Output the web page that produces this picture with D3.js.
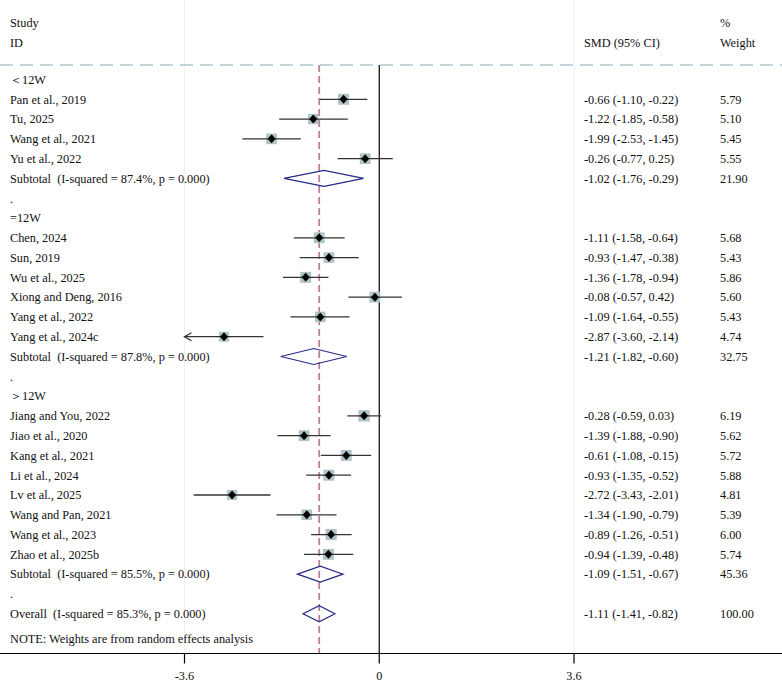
<!DOCTYPE html>
<html lang="en">
<head>
<meta charset="UTF-8">
<title>Forest plot</title>
<script src="https://cdn.jsdelivr.net/npm/d3@7"></script>
<style>
  * { margin: 0; padding: 0; }
  body { background: #fff; width: 782px; height: 681px; overflow: hidden; }
  svg { display: block; font-family: "Liberation Serif", "Times New Roman", serif; font-size: 12.3px; fill: #111; }
  text { white-space: pre; }
</style>
</head>
<body>
<svg id="chart" width="782" height="681"></svg>
<script>
// Subgroups
const groupLabels = ['＜12W', '=12W', '＞12W'];

// Studies (group index, SMD, 95% CI, % weight)
const studyNames = [
  'Pan et al., 2019', 'Tu, 2025', 'Wang et al., 2021', 'Yu et al., 2022',
  'Chen, 2024', 'Sun, 2019', 'Wu et al., 2025', 'Xiong and Deng, 2016', 'Yang et al., 2022', 'Yang et al., 2024c',
  'Jiang and You, 2022', 'Jiao et al., 2020', 'Kang et al., 2021', 'Li et al., 2024', 'Lv et al., 2025',
  'Wang and Pan, 2021', 'Wang et al., 2023', 'Zhao et al., 2025b'
];
const studyGroup = [0, 0, 0, 0, 1, 1, 1, 1, 1, 1, 2, 2, 2, 2, 2, 2, 2, 2];
const studySmd   = [-0.66, -1.22, -1.99, -0.26, -1.11, -0.93, -1.36, -0.08, -1.09, -2.87, -0.28, -1.39, -0.61, -0.93, -2.72, -1.34, -0.89, -0.94];
const studyLow   = [-1.10, -1.85, -2.53, -0.77, -1.58, -1.47, -1.78, -0.57, -1.64, -3.60, -0.59, -1.88, -1.08, -1.35, -3.43, -1.90, -1.26, -1.39];
const studyHigh  = [-0.22, -0.58, -1.45, 0.25, -0.64, -0.38, -0.94, 0.42, -0.55, -2.14, 0.03, -0.90, -0.15, -0.52, -2.01, -0.79, -0.51, -0.48];
const studyWeight = [5.79, 5.10, 5.45, 5.55, 5.68, 5.43, 5.86, 5.60, 5.43, 4.74, 6.19, 5.62, 5.72, 5.88, 4.81, 5.39, 6.00, 5.74];

// Subtotals per group
const subI2 = ['87.4%', '87.8%', '85.5%'];
const subSmd = [-1.02, -1.21, -1.09];
const subLow = [-1.76, -1.82, -1.51];
const subHigh = [-0.29, -0.60, -0.67];
const subWeight = [21.90, 32.75, 45.36];

// Overall
const overallI2 = '85.3%';
const overallSmd = -1.11;
const overallLow = -1.41;
const overallHigh = -0.82;

const axisTicks = [-3.6, 0, 3.6];

// build row list
const rows = [];
groupLabels.forEach((g, gi) => {
  rows.push({ kind: 'label', text: g });
  studyNames.forEach((s, i) => {
    if (studyGroup[i] !== gi) return;
    rows.push({ kind: 'study', text: s, es: studySmd[i], lo: studyLow[i], hi: studyHigh[i], w: studyWeight[i] });
  });
  rows.push({ kind: 'sub', text: `Subtotal  (I-squared = ${subI2[gi]}, p = 0.000)`, es: subSmd[gi], lo: subLow[gi], hi: subHigh[gi], w: subWeight[gi] });
  rows.push({ kind: 'label', text: '.' });
});
rows.push({ kind: 'sub', text: `Overall  (I-squared = ${overallI2}, p = 0.000)`, es: overallSmd, lo: overallLow, hi: overallHigh, w: 100 });
rows.push({ kind: 'note', text: 'NOTE: Weights are from random effects analysis' });

const svg = d3.select('#chart');
const x = d3.scaleLinear().domain([-3.6, 3.6]).range([184.5, 574]);
const y = d3.scaleLinear().domain([0, 28]).range([79.5, 633.5]);
const axisY = 653.5, topY = 65;
const fmt = v => v.toFixed(2);

// faint grid at the ticks
svg.append('g').selectAll('line')
  .data(axisTicks.filter(t => t !== 0)).join('line')
  .attr('x1', d => x(d)).attr('x2', d => x(d))
  .attr('y1', 0).attr('y2', axisY)
  .attr('stroke', '#eef2f3').attr('stroke-width', 1);

// header
const hdr = svg.append('g');
hdr.append('text').attr('x', 10).attr('y', 27).text('Study');
hdr.append('text').attr('x', 10).attr('y', 47).text('ID');
hdr.append('text').attr('x', 584).attr('y', 47).text('SMD (95% CI)');
hdr.append('text').attr('x', 720).attr('y', 27).text('%');
hdr.append('text').attr('x', 720).attr('y', 47).text('Weight');
svg.append('line')
  .attr('x1', 0).attr('x2', 782).attr('y1', topY).attr('y2', topY)
  .attr('stroke', '#c3d4dc').attr('stroke-width', 1.8).attr('stroke-dasharray', '13,7');

// null line + overall line
svg.append('line')
  .attr('x1', x(0)).attr('x2', x(0)).attr('y1', topY).attr('y2', axisY)
  .attr('stroke', '#000').attr('stroke-width', 1.2);
svg.append('line')
  .attr('x1', x(overallSmd)).attr('x2', x(overallSmd)).attr('y1', topY).attr('y2', axisY)
  .attr('stroke', '#bb8196').attr('stroke-width', 1.8).attr('stroke-dasharray', '7,4');

// row texts
const rowG = svg.append('g');
rows.forEach((r, i) => {
  const yy = i === 28 ? y(i) + 5 : y(i);
  rowG.append('text').attr('x', 10).attr('y', yy + 4.3).text(r.text);
  if (r.es !== undefined) {
    rowG.append('text').attr('x', 584).attr('y', yy + 4.3)
      .text(`${fmt(r.es)} (${fmt(r.lo)}, ${fmt(r.hi)})`);
    rowG.append('text').attr('x', 720).attr('y', yy + 4.3).text(fmt(r.w));
  }
});

// study markers
const marks = svg.append('g');
rows.forEach((r, i) => {
  if (r.kind !== 'study') return;
  const yy = y(i);
  const xl = Math.max(x(r.lo), x(-3.6));
  const side = 4.55 * Math.sqrt(r.w);
  marks.append('rect')
    .attr('x', x(r.es) - side / 2).attr('y', yy - side / 2)
    .attr('width', side).attr('height', side)
    .attr('fill', '#afc3c7');
  marks.append('line')
    .attr('x1', xl).attr('x2', x(r.hi)).attr('y1', yy).attr('y2', yy)
    .attr('stroke', '#333').attr('stroke-width', 1.3);
  if (r.lo <= -3.6) {
    marks.append('path')
      .attr('d', `M${xl + 7},${yy - 4}L${xl},${yy}L${xl + 7},${yy + 4}`)
      .attr('fill', 'none').attr('stroke', '#333').attr('stroke-width', 1.3);
  }
  const cx = x(r.es);
  marks.append('path')
    .attr('d', `M${cx},${yy - 4.5}L${cx + 4},${yy}L${cx},${yy + 4.5}L${cx - 4},${yy}Z`)
    .attr('fill', '#000');
});

// pooled diamonds
rows.forEach((r, i) => {
  if (r.kind !== 'sub') return;
  const yy = y(i);
  marks.append('path')
    .attr('d', `M${x(r.lo)},${yy}L${x(r.es)},${yy - 8}L${x(r.hi)},${yy}L${x(r.es)},${yy + 8}Z`)
    .attr('fill', 'none').attr('stroke', '#27288a').attr('stroke-width', 1.2);
});

// x axis
const ax = svg.append('g').attr('transform', `translate(0,${axisY})`);
ax.append('line').attr('x1', 0).attr('x2', 782).attr('stroke', '#000').attr('stroke-width', 1.2);
ax.selectAll('line.tick').data(axisTicks).join('line')
  .attr('class', 'tick')
  .attr('x1', d => x(d)).attr('x2', d => x(d)).attr('y1', 0).attr('y2', 10)
  .attr('stroke', '#000').attr('stroke-width', 1.2);
ax.selectAll('text').data(axisTicks).join('text')
  .attr('x', d => x(d)).attr('y', 26).attr('text-anchor', 'middle')
  .text(d => String(d));
</script>
</body>
</html>
